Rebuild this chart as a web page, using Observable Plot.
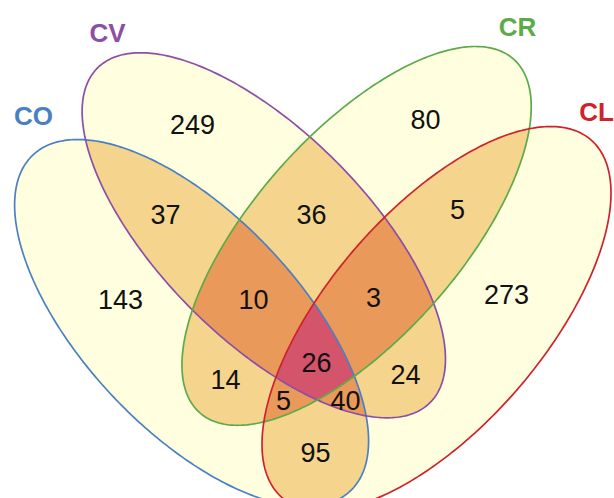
<!DOCTYPE html>
<html>
<head>
<meta charset="utf-8">
<script src="https://cdn.jsdelivr.net/npm/d3@7"></script>
<script src="https://cdn.jsdelivr.net/npm/@observablehq/plot@0.6"></script>
<style>
  html, body { margin: 0; padding: 0; background: #fff; }
  #chart svg { display: block; }
</style>
</head>
<body>
<div id="chart"></div>
<script>
// ---- data ----
const sets = ["CO", "CV", "CR", "CL"];
const setColors = ["#4a80c2", "#8d4ea6", "#5cab48", "#d0222c"];
const regions = ["CO", "CV", "CR", "CL", "CO&CV", "CV&CR", "CR&CL", "CO&CR", "CV&CL", "CO&CL",
                 "CO&CV&CR", "CV&CR&CL", "CO&CR&CL", "CO&CV&CL", "CO&CV&CR&CL"];
const counts = [143, 249, 80, 273, 37, 36, 5, 14, 24, 95, 10, 3, 5, 40, 26];
const depthColors = ["#ffffff", "#ffffe0", "#f5d58d", "#e9995a", "#d4556b"];

// ---- layout (ellipse geometry and label anchors, in pixels) ----
const ellipses = [
  {cx: 191.1, cy: 322.5, a: 231.1, b: 107.6, angle: 46.6},
  {cx: 263.3, cy: 234.8, a: 235.9, b: 103.3, angle: 45.2},
  {cx: 356.1, cy: 235.4, a: 236.4, b: 102.4, angle: -48.4},
  {cx: 436.0, cy: 318.2, a: 236.3, b: 107.4, angle: -49.2}
];
const setLabelPos = [[33, 116], [107, 33], [517, 27], [596, 112]];
const regionLabelPos = [[120, 300], [192, 125], [425, 120], [506, 295], [165, 215], [311, 215], [457, 210],
                        [225, 380], [405, 375], [315, 453], [253, 300], [373, 298], [283, 401], [345, 401], [316, 363]];

const W = 614, H = 498;

function inside(e, x, y) {
  const t = e.angle * Math.PI / 180;
  const dx = x - e.cx, dy = y - e.cy;
  const u = dx * Math.cos(t) + dy * Math.sin(t);
  const v = -dx * Math.sin(t) + dy * Math.cos(t);
  return (u / e.a) ** 2 + (v / e.b) ** 2 <= 1;
}
function depth(x, y) {
  let n = 0;
  for (const e of ellipses) if (inside(e, x, y)) n++;
  return n;
}
function outline(e) {
  const t = e.angle * Math.PI / 180;
  return d3.range(0, 361).map(k => {
    const s = k * Math.PI / 180;
    const u = e.a * Math.cos(s), v = e.b * Math.sin(s);
    return {x: e.cx + u * Math.cos(t) - v * Math.sin(t), y: e.cy + u * Math.sin(t) + v * Math.cos(t)};
  });
}
const regionLabels = regions.map((r, i) => ({region: r, count: counts[i], x: regionLabelPos[i][0], y: regionLabelPos[i][1]}));

const chart = Plot.plot({
  width: W,
  height: H,
  margin: 0,
  x: {domain: [0, W], range: [0, W], axis: null},
  y: {domain: [0, H], range: [0, H], axis: null},
  color: {type: "ordinal", domain: [0, 1, 2, 3, 4], range: depthColors},
  style: {fontFamily: "'Liberation Sans', Arial, sans-serif"},
  marks: [
    Plot.raster({x1: 0, x2: W, y1: 0, y2: H, width: W, height: H, fill: (x, y) => depth(x, y)}),
    ...ellipses.map((e, i) => Plot.line(outline(e), {x: "x", y: "y", stroke: setColors[i], strokeWidth: 1.7})),
    Plot.text(regionLabels, {x: "x", y: "y", text: d => String(d.count), fontSize: 27, fill: "#111"}),
    ...sets.map((s, i) => Plot.text([s], {x: setLabelPos[i][0], y: setLabelPos[i][1], text: d => d, fill: setColors[i], fontSize: 26, fontWeight: "bold"}))
  ]
});
document.getElementById("chart").appendChild(chart);
</script>
</body>
</html>
